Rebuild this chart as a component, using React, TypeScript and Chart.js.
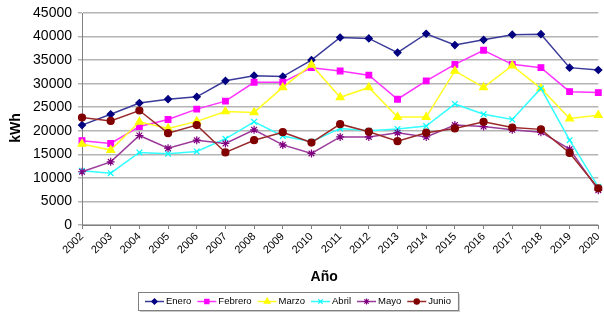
import React, { useEffect, useRef } from 'react';
import { Chart, registerables } from 'chart.js';
import { drawPoint } from 'chart.js/helpers';

Chart.register(...registerables);

const years = ['2002', '2003', '2004', '2005', '2006', '2007', '2008', '2009', '2010', '2011', '2012', '2013', '2014', '2015', '2016', '2017', '2018', '2019', '2020'];

const enero = [21200, 23500, 25900, 26700, 27200, 30600, 31700, 31500, 35000, 39800, 39600, 36600, 40600, 38200, 39300, 40400, 40500, 33400, 32900];
const febrero = [17900, 17300, 20900, 22400, 24600, 26300, 30300, 30300, 33400, 32700, 31800, 26700, 30600, 34100, 37100, 34100, 33400, 28300, 28100];
const marzo = [17200, 15900, 21900, 20500, 22000, 24100, 23900, 29200, 34000, 27100, 29200, 22900, 22900, 32700, 29200, 33800, 29000, 22600, 23300];
const abril = [11500, 11000, 15400, 15100, 15600, 18300, 21900, 18900, 17700, 20500, 20000, 20400, 21000, 25700, 23500, 22400, 29000, 18000, 8100];
const mayo = [11300, 13400, 19000, 16300, 18000, 17300, 20200, 17000, 15200, 18700, 18700, 19600, 18700, 21200, 20900, 20200, 19700, 16100, 7400];
const junio = [22800, 22100, 24300, 19500, 21200, 15400, 18000, 19700, 17500, 21400, 19800, 17800, 19600, 20500, 21900, 20700, 20300, 15300, 7800];

const seriesNames = ['Enero', 'Febrero', 'Marzo', 'Abril', 'Mayo', 'Junio'];
const seriesValues = [enero, febrero, marzo, abril, mayo, junio];
const seriesColors = ['#000080', '#FF00FF', '#FFFF00', '#00FFFF', '#800080', '#800000'];
const lineColors = ['#3a3a9a', '#FF33FF', '#FFFF22', '#33FFFF', '#9a3a9a', '#9a2a2a'];
const pointStyles = ['rectRot', 'rect', 'triangle', 'crossRot', 'star', 'circle'];
const pointRadii = [3.5, 4, 4.5, 4, 4, 3.5];

const yMin = 0;
const yMax = 45000;
const yStep = 5000;

const xTitle = 'Año';
const yTitle = 'kWh';

const FONT = '"Liberation Sans", Arial, sans-serif';

const titlesPlugin = {
  id: 'excelTitles',
  afterDraw(chart: any) {
    const ctx = chart.ctx;
    const area = chart.chartArea;
    ctx.save();
    ctx.fillStyle = '#000';
    ctx.font = `bold 14px ${FONT}`;
    ctx.textAlign = 'center';
    ctx.textBaseline = 'middle';
    ctx.fillText(xTitle, (area.left + area.right) / 2 - 16, 277);
    ctx.translate(16, (area.top + area.bottom) / 2 + 9);
    ctx.rotate(-Math.PI / 2);
    ctx.fillText(yTitle, 0, 0);
    ctx.restore();
  },
};

const legendPlugin = {
  id: 'excelLegend',
  afterDraw(chart: any) {
    const ctx = chart.ctx;
    const dsets = chart.data.datasets;
    ctx.save();
    ctx.font = `9.5px ${FONT}`;
    const lineLen = 19;
    const gapText = 2;
    const gapItem = 6;
    const padX = 7;
    const widths = dsets.map((d: any) => ctx.measureText(d.label).width);
    let total = padX * 2 + gapItem * (dsets.length - 1);
    widths.forEach((w: number) => { total += lineLen + gapText + w; });
    const cx = 298;
    const top = 292;
    const h = 18;
    const left = Math.round(cx - total / 2);
    ctx.fillStyle = '#c8c8c8';
    ctx.fillRect(left + 2, top + 2, total, h);
    ctx.fillStyle = '#fff';
    ctx.fillRect(left, top, total, h);
    ctx.strokeStyle = '#808080';
    ctx.lineWidth = 1;
    ctx.strokeRect(left + 0.5, top + 0.5, total, h);
    let x = left + padX;
    const y = top + h / 2 + 0.5;
    dsets.forEach((d: any, i: number) => {
      ctx.strokeStyle = d.borderColor;
      ctx.lineWidth = 1.5;
      ctx.beginPath();
      ctx.moveTo(x, y);
      ctx.lineTo(x + lineLen, y);
      ctx.stroke();
      ctx.fillStyle = d.pointBackgroundColor;
      ctx.strokeStyle = d.pointBorderColor;
      ctx.lineWidth = 1.2;
      drawPoint(ctx, {
        pointStyle: d.pointStyle,
        radius: d.pointRadius * 0.75,
        rotation: 0,
        borderWidth: 1.2,
      } as any, x + lineLen / 2, y);
      ctx.fillStyle = '#000';
      ctx.textAlign = 'left';
      ctx.textBaseline = 'middle';
      ctx.font = `9.5px ${FONT}`;
      ctx.fillText(d.label, x + lineLen + gapText, y);
      x += lineLen + gapText + widths[i] + gapItem;
    });
    ctx.restore();
  },
};

export default function App() {
  const canvasRef = useRef<HTMLCanvasElement | null>(null);

  useEffect(() => {
    if (!canvasRef.current) return;
    const datasets = seriesNames.map((name, i) => ({
      label: name,
      data: seriesValues[i],
      borderColor: lineColors[i],
      backgroundColor: seriesColors[i],
      pointBorderColor: seriesColors[i],
      pointBackgroundColor: seriesColors[i],
      pointStyle: pointStyles[i],
      pointRadius: pointRadii[i],
      pointBorderWidth: 1.2,
      borderWidth: 1.5,
      tension: 0,
      fill: false,
      order: seriesNames.length - i,
    }));
    const chart = new Chart(canvasRef.current, {
      type: 'line',
      data: { labels: years, datasets },
      options: {
        animation: false,
        responsive: false,
        maintainAspectRatio: false,
        layout: { padding: { top: 13, right: 4, bottom: 30, left: 0 } },
        plugins: {
          legend: { display: false },
          tooltip: { enabled: false },
        },
        scales: {
          x: {
            type: 'category',
            offset: false,
            grid: {
              display: true,
              drawOnChartArea: false,
              drawTicks: true,
              tickLength: 4,
              color: '#808080',
            },
            border: { display: true, color: '#808080', width: 1 },
            ticks: {
              autoSkip: false,
              minRotation: 45,
              maxRotation: 45,
              padding: 1,
              color: '#000',
              font: { family: FONT, size: 11 },
            },
            afterFit(scale: any) {
              scale.height = 59;
              scale.paddingLeft = 0;
              scale.paddingRight = 0;
            },
          },
          y: {
            min: yMin,
            max: yMax,
            grid: {
              color: '#b4b4b4',
              lineWidth: 1.5,
              drawTicks: true,
              tickLength: 4,
            },
            border: { display: true, color: '#808080', width: 1 },
            ticks: {
              stepSize: yStep,
              padding: 6,
              color: '#000',
              font: { family: FONT, size: 14 },
              callback: (v: any) => String(v),
            },
            afterFit(scale: any) {
              scale.width = 82;
              scale.paddingTop = 0;
              scale.paddingBottom = 0;
            },
          },
        },
      },
      plugins: [titlesPlugin, legendPlugin],
    } as any);
    return () => chart.destroy();
  }, []);

  return (
    <div style={{ position: 'fixed', left: 0, top: 0, width: 604, height: 314, background: '#fff' }}>
      <canvas ref={canvasRef} width={604} height={314} style={{ width: 604, height: 314, display: 'block' }} />
    </div>
  );
}
